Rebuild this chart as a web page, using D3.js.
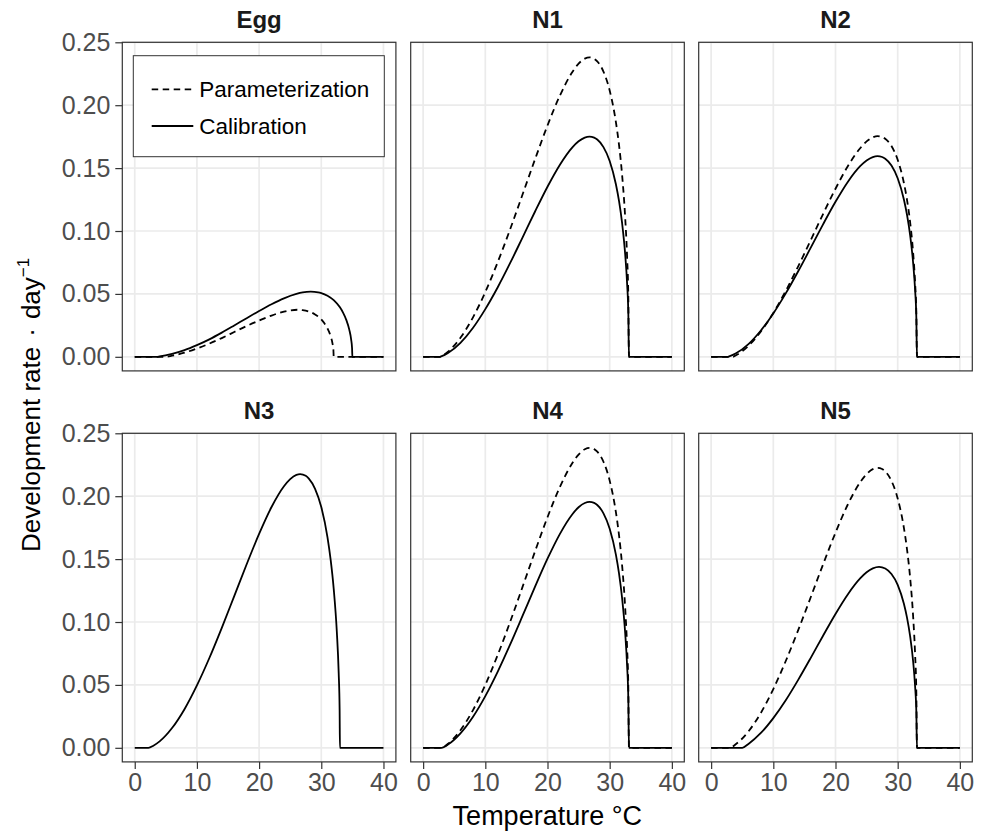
<!DOCTYPE html>
<html>
<head>
<meta charset="utf-8">
<script src="https://cdn.jsdelivr.net/npm/d3@7"></script>
<style>
  body { margin: 0; background: #fff; }
  text { font-family: "Liberation Sans", Arial, Helvetica, sans-serif; }
</style>
</head>
<body>
<div id="chart-container"></div>
<script>
// panels in facet order
var panels = ["Egg", "N1", "N2", "N3", "N4", "N5"]
var xTicks = [0, 10, 20, 30, 40]
var yTicks = [0, 0.05, 0.10, 0.15, 0.20, 0.25]

// [temperature, development rate]
var eggParam = [[0,0],[5,0],[6,0.0009],[8,0.0033],[10,0.0066],[12,0.0105],[14,0.0149],[16,0.0197],[18,0.0245],[20,0.0288],[22,0.0328],[24,0.0359],[25,0.0369],[26.15,0.0374],[27,0.0371],[28,0.0360],[29,0.0337],[30,0.0297],[30.5,0.0266],[31,0.0225],[31.5,0.0165],[31.8,0.0107],[31.95,0.0054],[32,0],[40,0]]
var eggCalib = [[0,0],[3.5,0],[4,0.0003],[6,0.0023],[8,0.0053],[10,0.0093],[12,0.0139],[14,0.0192],[16,0.0249],[18,0.0307],[20,0.0364],[22,0.0418],[24,0.0465],[26,0.0500],[27,0.0512],[28.3,0.0518],[29.5,0.0513],[30,0.0507],[31,0.0486],[32,0.0450],[33,0.0393],[33.5,0.0351],[34,0.0296],[34.5,0.0216],[34.8,0.0139],[34.95,0.0070],[35,0],[40,0]]

var n1Param = [[0,0],[2.7,0],[3,0.0007],[4,0.0041],[6,0.0151],[8,0.0312],[10,0.0515],[12,0.0753],[14,0.1015],[16,0.1292],[18,0.1571],[20,0.1839],[22,0.2077],[24,0.2264],[25,0.2330],[26,0.2370],[26.75,0.2380],[27.5,0.2369],[28,0.2349],[29,0.2267],[30,0.2117],[31,0.1866],[31.5,0.1685],[32,0.1444],[32.5,0.1101],[32.8,0.0794],[33,0.0464],[33.1,0],[40,0]]
var n1Calib = [[0,0],[2.7,0],[3,0.0005],[4,0.0030],[6,0.0111],[8,0.0229],[10,0.0379],[12,0.0553],[14,0.0746],[16,0.0950],[18,0.1155],[20,0.1352],[22,0.1527],[24,0.1665],[25,0.1713],[26,0.1743],[26.75,0.1750],[27.5,0.1742],[28,0.1727],[29,0.1667],[30,0.1557],[31,0.1372],[31.5,0.1239],[32,0.1062],[32.5,0.0810],[32.8,0.0584],[33,0.0341],[33.1,0],[40,0]]

var n2Param = [[0,0],[3.5,0],[4,0.0012],[6,0.0087],[8,0.0202],[10,0.0349],[12,0.0524],[14,0.0719],[16,0.0925],[18,0.1135],[20,0.1336],[22,0.1517],[24,0.1660],[25,0.1712],[26,0.1744],[26.75,0.1754],[27.5,0.1747],[28,0.1733],[29,0.1676],[30,0.1566],[31,0.1382],[31.5,0.1248],[32,0.1070],[32.5,0.0817],[32.8,0.0589],[33,0.0344],[33.1,0],[40,0]]
var n2Calib = [[0,0],[2.7,0],[3,0.0005],[4,0.0028],[6,0.0101],[8,0.0209],[10,0.0345],[12,0.0504],[14,0.0680],[16,0.0866],[18,0.1053],[20,0.1232],[22,0.1392],[24,0.1517],[25,0.1561],[26,0.1588],[26.75,0.1595],[27.5,0.1588],[28,0.1574],[29,0.1520],[30,0.1419],[31,0.1251],[31.5,0.1129],[32,0.0968],[32.5,0.0738],[32.8,0.0532],[33,0.0311],[33.1,0],[40,0]]

var n3Calib = [[0,0],[2.2,0],[3,0.0017],[4,0.0051],[6,0.0157],[8,0.0307],[10,0.0496],[12,0.0714],[14,0.0954],[16,0.1206],[18,0.1459],[20,0.1700],[22,0.1914],[24,0.2079],[25,0.2136],[26,0.2169],[26.6,0.2175],[27.5,0.2162],[28,0.2140],[29,0.2059],[30,0.1914],[31,0.1673],[31.5,0.1497],[32,0.1263],[32.5,0.0922],[32.8,0.0595],[32.95,0.0300],[33,0],[40,0]]

var n4Param = [[0,0],[3,0],[4,0.0032],[6,0.0140],[8,0.0298],[10,0.0501],[12,0.0739],[14,0.1002],[16,0.1281],[18,0.1562],[20,0.1833],[22,0.2074],[24,0.2264],[25,0.2331],[26,0.2373],[26.75,0.2384],[27.5,0.2374],[28,0.2354],[29,0.2274],[30,0.2124],[31,0.1873],[31.5,0.1691],[32,0.1449],[32.5,0.1106],[32.8,0.0797],[33,0.0466],[33.1,0],[40,0]]
var n4Calib = [[0,0],[3,0],[4,0.0026],[6,0.0115],[8,0.0245],[10,0.0411],[12,0.0606],[14,0.0822],[16,0.1050],[18,0.1281],[20,0.1503],[22,0.1701],[24,0.1857],[25,0.1912],[26,0.1946],[26.75,0.1955],[27.5,0.1947],[28,0.1930],[29,0.1864],[30,0.1742],[31,0.1536],[31.5,0.1387],[32,0.1189],[32.5,0.0907],[32.8,0.0654],[33,0.0382],[33.1,0],[40,0]]

var n5Param = [[0,0],[3,0],[4,0.0030],[6,0.0130],[8,0.0278],[10,0.0467],[12,0.0690],[14,0.0935],[16,0.1195],[18,0.1458],[20,0.1710],[22,0.1936],[24,0.2113],[25,0.2176],[26,0.2215],[26.75,0.2225],[27.5,0.2216],[28,0.2197],[29,0.2122],[30,0.1982],[31,0.1748],[31.5,0.1578],[32,0.1353],[32.5,0.1032],[32.8,0.0744],[33,0.0435],[33.1,0],[40,0]]
var n5Calib = [[0,0],[5,0],[6,0.0031],[8,0.0118],[10,0.0236],[12,0.0378],[14,0.0540],[16,0.0713],[18,0.0891],[20,0.1064],[22,0.1221],[24,0.1348],[25,0.1395],[26,0.1426],[27,0.1438],[28,0.1425],[29,0.1381],[30,0.1295],[31,0.1145],[31.5,0.1035],[32,0.0888],[32.5,0.0679],[32.8,0.0489],[33,0.0286],[33.1,0],[40,0]]

var paramCurves = [eggParam, n1Param, n2Param, null, n4Param, n5Param]
var calibCurves = [eggCalib, n1Calib, n2Calib, n3Calib, n4Calib, n5Calib]

var width = 982
var height = 833
var colX = [122.3, 410.7, 698.7]
var rowY = [42.3, 433.3]
var pw = 273.6
var ph = 328.6

var xScale = d3.scaleLinear().domain([-2, 42]).range([0, pw])
var yScale = d3.scaleLinear().domain([-0.0112, 0.25]).range([ph, 0])

var line = d3.line()
  .curve(d3.curveMonotoneX)
  .x(function(d) { return xScale(d[0]) })
  .y(function(d) { return yScale(d[1]) })

var svg = d3.select('#chart-container')
  .append('svg')
  .attr('width', width)
  .attr('height', height)

svg.append('rect').attr('width', width).attr('height', height).attr('fill', '#fff')

panels.forEach(function(name, i) {
  var col = i % 3
  var row = Math.floor(i / 3)
  var g = svg.append('g')
    .attr('transform', 'translate(' + colX[col] + ', ' + rowY[row] + ')')

  /* grid */
  g.selectAll('.gx').data(xTicks).enter().append('line')
    .attr('x1', function(d) { return xScale(d) }).attr('x2', function(d) { return xScale(d) })
    .attr('y1', 0).attr('y2', ph)
    .attr('stroke', '#EBEBEB').attr('stroke-width', 1.7)
  g.selectAll('.gy').data(yTicks).enter().append('line')
    .attr('y1', function(d) { return yScale(d) }).attr('y2', function(d) { return yScale(d) })
    .attr('x1', 0).attr('x2', pw)
    .attr('stroke', '#EBEBEB').attr('stroke-width', 1.7)

  /* curves */
  if (paramCurves[i]) {
    g.append('path').datum(paramCurves[i])
      .attr('d', line).attr('fill', 'none')
      .attr('stroke', '#000').attr('stroke-width', 1.8)
      .attr('stroke-dasharray', '6.5,4.5')
  }
  g.append('path').datum(calibCurves[i])
    .attr('d', line).attr('fill', 'none')
    .attr('stroke', '#000').attr('stroke-width', 1.8)

  /* border */
  g.append('rect').attr('width', pw).attr('height', ph)
    .attr('fill', 'none').attr('stroke', '#333').attr('stroke-width', 1.2)

  /* strip title */
  g.append('text')
    .attr('x', pw / 2).attr('y', -14)
    .attr('text-anchor', 'middle')
    .attr('font-size', 24).attr('font-weight', 'bold').attr('fill', '#1A1A1A')
    .text(name)

  /* x axis */
  if (row === 1) {
    var ax = g.append('g')
      .attr('transform', 'translate(0, ' + ph + ')')
      .call(d3.axisBottom(xScale).tickValues(xTicks).tickSize(7).tickPadding(4))
    ax.select('.domain').remove()
    ax.selectAll('line').attr('stroke', '#333').attr('stroke-width', 1.2)
    ax.selectAll('text').attr('font-size', 25).attr('fill', '#4D4D4D')
      .attr('font-family', '"Liberation Sans", Arial, sans-serif')
  }

  /* y axis */
  if (col === 0) {
    var ay = g.append('g')
      .call(d3.axisLeft(yScale).tickValues(yTicks).tickFormat(d3.format('.2f')).tickSize(7).tickPadding(5))
    ay.select('.domain').remove()
    ay.selectAll('line').attr('stroke', '#333').attr('stroke-width', 1.2)
    ay.selectAll('text').attr('font-size', 25).attr('fill', '#4D4D4D')
      .attr('font-family', '"Liberation Sans", Arial, sans-serif')
  }

  /* legend in first panel */
  if (i === 0) {
    var lg = g.append('g').attr('transform', 'translate(11, 13.4)')
    lg.append('rect').attr('width', 251).attr('height', 101)
      .attr('fill', '#fff').attr('stroke', '#333').attr('stroke-width', 1)
    var items = [{label: 'Parameterization', dash: '6.5,4.5', y: 33.6},
                 {label: 'Calibration', dash: null, y: 70.3}]
    items.forEach(function(it) {
      lg.append('line').attr('x1', 18.4).attr('x2', 60)
        .attr('y1', it.y).attr('y2', it.y)
        .attr('stroke', '#000').attr('stroke-width', 1.8)
        .attr('stroke-dasharray', it.dash)
      lg.append('text').attr('x', 66).attr('y', it.y)
        .attr('dy', '0.35em').attr('font-size', 22.5).attr('fill', '#000')
        .text(it.label)
    })
  }
})

/* axis titles */
svg.append('text')
  .attr('x', (colX[0] + colX[2] + pw) / 2).attr('y', 825)
  .attr('text-anchor', 'middle').attr('font-size', 27).attr('fill', '#000')
  .text('Temperature °C')

var yt = svg.append('text')
  .attr('transform', 'translate(40, 552) rotate(-90)')
  .attr('font-size', 26).attr('fill', '#000')
yt.append('tspan').text('Development rate')
yt.append('tspan').attr('dx', 10).text('·')
yt.append('tspan').attr('dx', 9).text('day')
yt.append('tspan').attr('dy', -11).attr('font-size', 17).text('\u22121')
</script>
</body>
</html>
